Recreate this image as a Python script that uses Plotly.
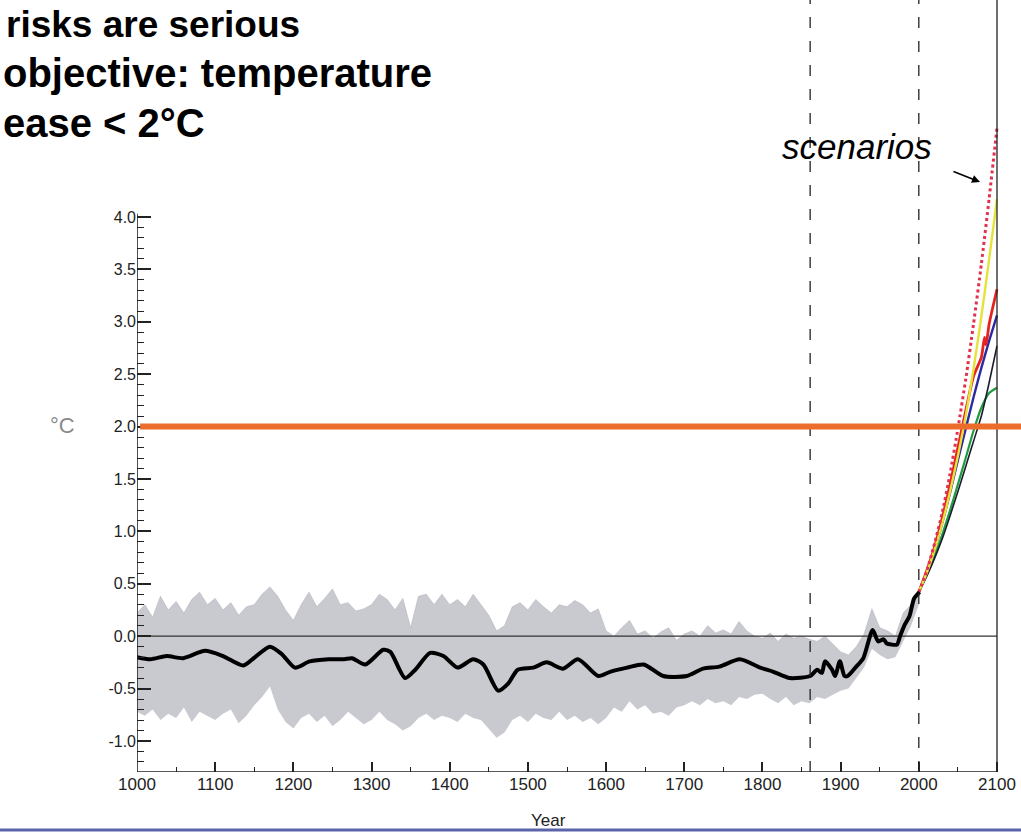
import plotly.graph_objects as go

# ---------------- data ----------------
hist_years = [1000, 1017, 1038, 1059, 1087, 1110, 1136, 1151, 1170, 1185, 1202, 1221,
              1245, 1265, 1275, 1292, 1315, 1324, 1343, 1356, 1375, 1392, 1410, 1430,
              1443, 1462, 1475, 1487, 1507, 1524, 1545, 1564, 1590, 1605, 1627, 1648,
              1673, 1703, 1724, 1745, 1771, 1797, 1814, 1835, 1861, 1870, 1876, 1880,
              1889, 1893, 1899, 1905, 1909, 1920, 1929, 1941, 1948, 1955, 1959, 1965,
              1972, 1976, 1982, 1988, 1994, 2001]
hist_temp = [-0.20, -0.22, -0.19, -0.21, -0.14, -0.19, -0.28, -0.20, -0.10, -0.17, -0.30, -0.24,
             -0.22, -0.22, -0.21, -0.27, -0.13, -0.15, -0.40, -0.32, -0.16, -0.19, -0.30, -0.22,
             -0.27, -0.52, -0.45, -0.32, -0.30, -0.25, -0.31, -0.22, -0.38, -0.34, -0.30, -0.27,
             -0.38, -0.38, -0.31, -0.29, -0.22, -0.30, -0.34, -0.40, -0.38, -0.32, -0.35, -0.24,
             -0.32, -0.38, -0.24, -0.38, -0.38, -0.29, -0.21, 0.06, -0.05, -0.03, -0.07, -0.08,
             -0.08, 0.00, 0.11, 0.19, 0.36, 0.42]

band_years = list(range(1000, 2001, 10))
band_upper = [0.22, 0.30, 0.18, 0.38, 0.25, 0.33, 0.22, 0.35, 0.42, 0.30,
              0.36, 0.25, 0.32, 0.20, 0.28, 0.30, 0.40, 0.47, 0.38, 0.25,
              0.15, 0.30, 0.42, 0.28, 0.36, 0.45, 0.30, 0.32, 0.24, 0.26,
              0.30, 0.40, 0.35, 0.25, 0.36, 0.08, 0.38, 0.40, 0.30, 0.40,
              0.30, 0.35, 0.28, 0.40, 0.30, 0.20, 0.05, 0.10, 0.28, 0.32,
              0.25, 0.35, 0.28, 0.22, 0.30, 0.28, 0.34, 0.30, 0.22, 0.26,
              0.05, 0.00, 0.08, 0.15, 0.02, 0.05, -0.02, 0.04, 0.08, -0.04,
              0.02, 0.05, 0.00, 0.10, 0.03, 0.06, 0.02, 0.14, 0.05, 0.00,
              -0.02, 0.03, -0.05, 0.02, -0.02, 0.00, -0.03, -0.05, 0.00, -0.08,
              -0.15, -0.18, -0.10, 0.02, 0.26, 0.08, 0.05, 0.00, 0.22, 0.30,
              0.45]
band_lower = [-0.72, -0.76, -0.70, -0.80, -0.74, -0.78, -0.68, -0.82, -0.72, -0.76,
              -0.80, -0.74, -0.70, -0.83, -0.76, -0.66, -0.58, -0.48, -0.70, -0.82,
              -0.88, -0.78, -0.74, -0.82, -0.76, -0.86, -0.80, -0.72, -0.78, -0.84,
              -0.80, -0.72, -0.80, -0.84, -0.90, -0.86, -0.78, -0.74, -0.80, -0.76,
              -0.78, -0.82, -0.74, -0.78, -0.80, -0.88, -0.97, -0.92, -0.80, -0.76,
              -0.82, -0.74, -0.78, -0.80, -0.72, -0.80, -0.76, -0.82, -0.78, -0.84,
              -0.78, -0.68, -0.72, -0.62, -0.70, -0.66, -0.74, -0.72, -0.76, -0.68,
              -0.66, -0.62, -0.66, -0.60, -0.64, -0.62, -0.66, -0.58, -0.60, -0.56,
              -0.55, -0.60, -0.64, -0.58, -0.66, -0.62, -0.64, -0.58, -0.60, -0.56,
              -0.52, -0.50, -0.40, -0.30, -0.12, -0.18, -0.22, -0.20, -0.05, 0.10,
              0.30]

scen_years = [2000, 2010, 2020, 2030, 2040, 2050, 2060, 2070, 2080, 2090, 2100]
scen_reddot = [0.42, 0.62, 0.88, 1.18, 1.55, 1.98, 2.45, 2.98, 3.55, 4.18, 4.85]
scen_yellow = [0.42, 0.60, 0.82, 1.08, 1.38, 1.72, 2.10, 2.55, 3.05, 3.60, 4.17]
scen_blue = [0.42, 0.60, 0.82, 1.08, 1.37, 1.68, 1.98, 2.28, 2.56, 2.82, 3.06]
scen_dark = [0.42, 0.57, 0.74, 0.93, 1.15, 1.38, 1.62, 1.86, 2.10, 2.42, 2.77]
scen_green = [0.42, 0.58, 0.76, 0.97, 1.20, 1.45, 1.70, 1.96, 2.18, 2.32, 2.37]
red_years = [2000, 2010, 2020, 2030, 2040, 2050, 2060, 2070, 2080, 2084, 2086, 2090, 2100]
scen_red = [0.42, 0.62, 0.85, 1.13, 1.45, 1.80, 2.15, 2.48, 2.66, 2.85, 2.78, 2.98, 3.31]

target_level = 2.0
marker_years = [1861, 2000]

y_ticks = [-1.0, -0.5, 0.0, 0.5, 1.0, 1.5, 2.0, 2.5, 3.0, 3.5, 4.0]
y_ticktext = ["-1.0", "-0.5", "0.0", "0.5", "1.0", "1.5", "2.0", "2.5", "3.0", "3.5", "4.0"]
x_ticks = [1000, 1100, 1200, 1300, 1400, 1500, 1600, 1700, 1800, 1900, 2000, 2100]
x_ticktext = ["1000", "1100", "1200", "1300", "1400", "1500", "1600", "1700", "1800",
              "1900", "2000", "2100"]

# ---------------- layout geometry ----------------
W, H = 1021, 832
L, B = 137, 60
X0, X1 = 1000, 2130.7
Y0, Y1 = -1.296, 6.07
FONT = "Liberation Sans, Arial, sans-serif"

y_minor = [round(v / 10, 1) for v in range(-12, 40) if v % 5 != 0]
x_minor = [v for v in range(1050, 2100, 100)]


def px_x(px):
    return (px - L) / (W - L)


def px_y(py):
    return (H - B - py) / (H - B)


fig = go.Figure()

# grey annual-variability band
fig.add_trace(go.Scatter(x=band_years, y=band_lower, mode="lines",
                         line=dict(width=0, color="rgba(0,0,0,0)"),
                         showlegend=False, hoverinfo="skip"))
fig.add_trace(go.Scatter(x=band_years, y=band_upper, mode="lines",
                         line=dict(width=0.6, color="rgba(175,175,185,0.9)"),
                         fill="tonexty", fillcolor="rgba(192,192,200,0.85)",
                         showlegend=False, hoverinfo="skip"))

# zero line
fig.add_trace(go.Scatter(x=[1000, 2100], y=[0, 0], mode="lines",
                         line=dict(color="#333333", width=1.3),
                         showlegend=False, hoverinfo="skip"))

# scenarios
scen_styles = [
    (scen_years, scen_green, dict(color="#1f9a3c", width=2.2)),
    (scen_years, scen_dark, dict(color="#1c1c30", width=1.6)),
    (scen_years, scen_blue, dict(color="#2c2ca0", width=2.4)),
    (red_years, scen_red, dict(color="#e52420", width=2.8)),
    (scen_years, scen_yellow, dict(color="#e6e23a", width=2.4)),
    (scen_years, scen_reddot, dict(color="#e3304c", width=3, dash="dot")),
]
for xs, ys, st in scen_styles:
    fig.add_trace(go.Scatter(x=xs, y=ys, mode="lines",
                             line=dict(shape="spline", smoothing=0.6, **st),
                             showlegend=False, hoverinfo="skip"))

# smoothed historical record
fig.add_trace(go.Scatter(x=hist_years, y=hist_temp, mode="lines",
                         line=dict(color="black", width=4, shape="spline", smoothing=0.7),
                         showlegend=False, hoverinfo="skip"))

shapes = []
# left axis line (up to 4.0)
shapes.append(dict(type="line", xref="x", yref="y", x0=1000, x1=1000, y0=Y0, y1=4.03,
                   line=dict(color="#222222", width=1.6)))
# bottom axis line
shapes.append(dict(type="line", xref="x", yref="y", x0=1000, x1=2100, y0=Y0, y1=Y0,
                   line=dict(color="#222222", width=1.6)))
# right frame line at 2100 going to the top
shapes.append(dict(type="line", xref="x", yref="paper", x0=2100, x1=2100, y0=0, y1=1,
                   line=dict(color="#222222", width=1.3)))
# dashed vertical markers
for yr in marker_years:
    shapes.append(dict(type="line", xref="x", yref="paper", x0=yr, x1=yr, y0=0, y1=1,
                       line=dict(color="#222222", width=1.3, dash="11px,13px")))
# 2 degree target line
shapes.append(dict(type="line", xref="x", yref="y", x0=1004, x1=X1, y0=target_level,
                   y1=target_level, line=dict(color="#ec6c2c", width=6)))
# slide bottom rule
shapes.append(dict(type="line", xref="paper", yref="paper", x0=px_x(0), x1=1,
                   y0=px_y(830), y1=px_y(830), line=dict(color="#5a64a8", width=3)))

annotations = [
    dict(text="<b>risks are serious</b>", xref="paper", yref="paper",
         x=px_x(4), y=px_y(24), xanchor="left", yanchor="middle", showarrow=False,
         font=dict(family=FONT, size=37, color="black")),
    dict(text="<b>objective: temperature</b>", xref="paper", yref="paper",
         x=px_x(1), y=px_y(73), xanchor="left", yanchor="middle", showarrow=False,
         font=dict(family=FONT, size=40, color="black")),
    dict(text="<b>ease &lt; 2°C</b>", xref="paper", yref="paper",
         x=px_x(1), y=px_y(123), xanchor="left", yanchor="middle", showarrow=False,
         font=dict(family=FONT, size=40, color="black")),
    dict(text="<i>scenarios</i>", xref="paper", yref="paper",
         x=px_x(857), y=px_y(146), xanchor="center", yanchor="middle", showarrow=False,
         font=dict(family=FONT, size=35, color="black")),
    dict(text="", xref="paper", yref="paper", x=px_x(980), y=px_y(182),
         ax=-28, ay=-11, showarrow=True, arrowhead=2, arrowsize=1, arrowwidth=1.6,
         arrowcolor="black"),
    dict(text="°C", xref="paper", yref="paper", x=px_x(62), y=px_y(426),
         xanchor="center", yanchor="middle", showarrow=False,
         font=dict(family=FONT, size=22, color="#8a8a8a")),
    dict(text="Year", xref="paper", yref="paper", x=px_x(548), y=px_y(820),
         xanchor="center", yanchor="middle", showarrow=False,
         font=dict(family=FONT, size=17, color="#222222")),
]

fig.update_layout(
    width=W, height=H,
    margin=dict(l=L, r=0, t=0, b=B, pad=0),
    paper_bgcolor="white", plot_bgcolor="white",
    showlegend=False,
    shapes=shapes,
    annotations=annotations,
    xaxis=dict(range=[X0, X1], showgrid=False, zeroline=False, showline=False,
               tickmode="array", tickvals=x_ticks, ticktext=x_ticktext,
               ticks="inside", ticklen=10, tickwidth=1.5, tickcolor="#222222",
               tickfont=dict(family=FONT, size=17, color="#222222"),
               minor=dict(tickmode="array", tickvals=x_minor, ticks="inside", ticklen=5,
                          tickwidth=1.3, tickcolor="#222222")),
    yaxis=dict(range=[Y0, Y1], showgrid=False, zeroline=False, showline=False,
               tickmode="array", tickvals=y_ticks, ticktext=y_ticktext,
               ticks="inside", ticklen=14, tickwidth=1.5, tickcolor="#222222",
               tickfont=dict(family=FONT, size=16, color="#222222"),
               minor=dict(tickmode="array", tickvals=y_minor, ticks="inside", ticklen=7,
                          tickwidth=1.3, tickcolor="#222222")),
)

fig.write_html("out.html", config={"displayModeBar": False},
               post_script="document.body.style.margin='0';document.body.style.overflow='hidden';")
